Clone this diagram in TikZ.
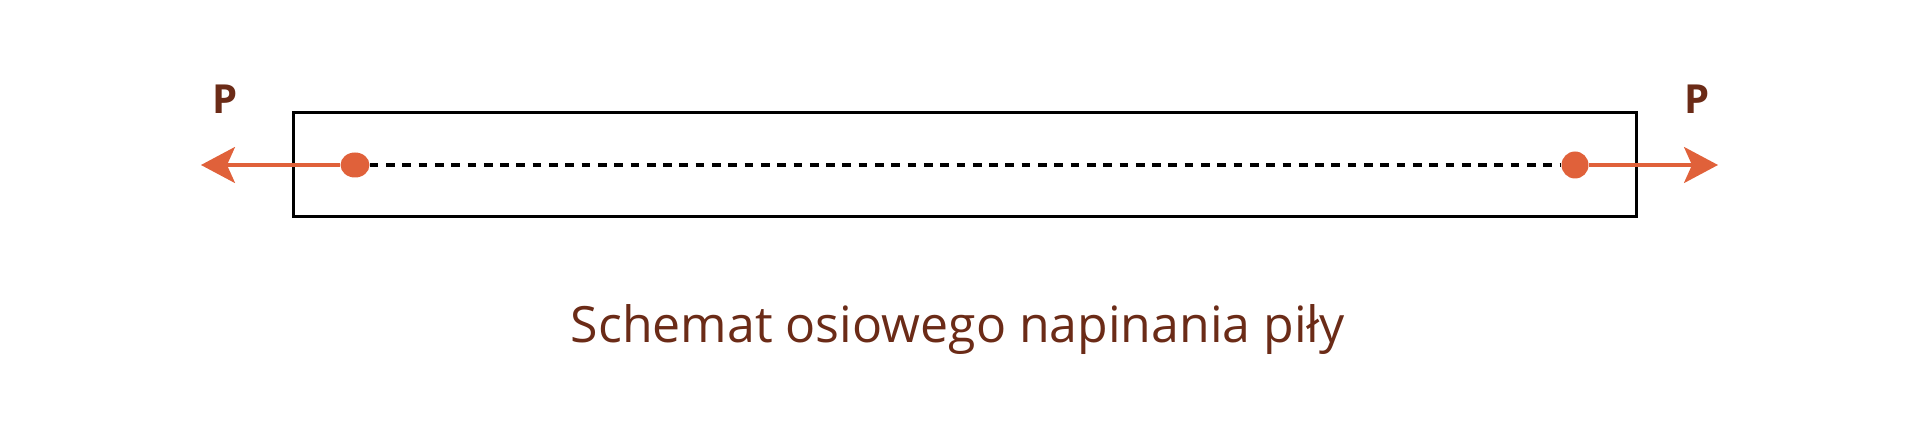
\documentclass[tikz,border=0pt]{standalone}
\usepackage{fontspec}
\setmainfont{Open Sans}
\usetikzlibrary{positioning}
\usetikzlibrary{arrows.meta}
\usetikzlibrary{shapes.geometric}
\definecolor{pilaorange}{HTML}{E0613A}
\definecolor{pilabrown}{HTML}{6B2B17}

\begin{document}
\begin{tikzpicture}[x=1pt,y=-1pt,
  force/.style={pilaorange,line width=3.2pt,-{Stealth[length=34pt,width=36pt,inset=8pt]}},
  pin/.style={ellipse,fill=pilaorange,inner sep=0pt},
  axis/.style={line width=4pt,dash pattern=on 8.7pt off 7.6pt},
  load/.style={text=pilabrown,font=\fontsize{40}{40}\selectfont\bfseries,anchor=base}]
 \useasboundingbox (0,0) rectangle (1920,446);
 \draw[line width=3pt] (293,113) rectangle (1636,217); 
 \node[pin,minimum width=29pt,minimum height=25pt] (pinl) at (355,165) {};
 \node[pin,minimum width=27pt,minimum height=27pt] (pinr) at (1575,165) {};
 \coordinate (tipl) at (201,165);
 \coordinate (tipr) at (1718,165);
 \draw[axis] (pinl) -- (pinr);
 \draw[force] (pinl) -- (tipl);
 \draw[force] (pinr) -- (tipr);
 \node[load] (pl) at (225,114) {P};
 \node[load] (pr) at (1697,114) {P};
 \node[text=pilabrown,font=\fontsize{50}{50}\selectfont,anchor=base] (caption) at (958,343) {Schemat osiowego napinania piły};
\end{tikzpicture}
\end{document}
